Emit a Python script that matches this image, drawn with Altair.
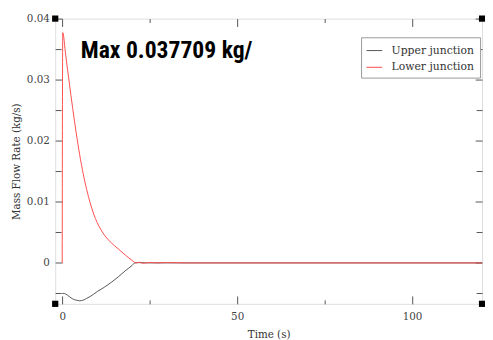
import altair as alt
import pandas as pd

# ---- data ----
LOWER_T = [0, 0.15, 1, 2, 3, 4, 5, 6, 7, 8, 9, 10, 11, 12, 13, 14, 16, 18, 20, 21,
           22, 23, 25, 27, 30, 35, 120]
LOWER_V = [0, 0.0377, 0.0340, 0.0296, 0.0253, 0.0213, 0.0177, 0.0146, 0.0120, 0.0098, 0.0080,
           0.0066, 0.0055, 0.0046, 0.0039, 0.0033, 0.0023, 0.0013, 0.0004, 0.0,
           0.0001, -0.00005, 0.00008, 0.0, 0.00006, 0.0, 0.0]
UPPER_T = [0, 0.5, 1, 2, 3, 4, 5, 6, 7, 8, 10, 12, 14, 16, 18, 20, 20.7, 22, 24, 120]
UPPER_V = [-0.0050, -0.0050, -0.0051, -0.0055, -0.0059, -0.0061, -0.0062, -0.0061, -0.0058,
           -0.0055, -0.0047, -0.0040, -0.0032, -0.0023, -0.0013, -0.0004, 0.0, 0.00005, 0.0, 0.0]
SERIES = ["Upper junction", "Lower junction"]
COLORS = ["#555555", "#ff4d4d"]

X_DOMAIN = [-2, 120]
Y_DOMAIN = [-0.0067, 0.04]
X_TICKS = [0, 25, 50, 75, 100]          # labelled: multiples of 50
Y_TICKS = [-0.005, 0, 0.005, 0.01, 0.015, 0.02, 0.025, 0.03, 0.035, 0.04]  # labelled: multiples of 0.01
TITLE = "Max 0.037709 kg/"

W, H = 434, 290
SERIF = "DejaVu Serif"
FRAME = "#8a8a8a"
TICK = "#555555"

upper = pd.DataFrame({"t": UPPER_T, "v": UPPER_V, "series": SERIES[0]})
lower = pd.DataFrame({"t": LOWER_T, "v": LOWER_V, "series": SERIES[1]})

xscale = alt.Scale(domain=X_DOMAIN, nice=False, zero=False)
yscale = alt.Scale(domain=Y_DOMAIN, nice=False, zero=False)

x_major = "datum.value % 50 == 0"
y_major = "abs(datum.value * 100 - round(datum.value * 100)) < 0.001"

X = alt.X("t:Q", scale=xscale, axis=alt.Axis(
    values=X_TICKS, ticks=False, tickSize=0, domain=False, title="Time (s)",
    labelExpr=f"{x_major} ? format(datum.value, 'd') : ''",
    grid=True, gridColor=TICK, gridWidth=1, gridOpacity=1,
    gridDash={"condition": {"test": x_major, "value": [8, H - 16, 8, 1000]},
              "value": [4, H - 8, 4, 1000]},
    labelFont=SERIF, labelFontSize=10.5, labelColor="#444", labelPadding=8,
    titleFont=SERIF, titleFontSize=10.5, titleFontWeight="normal", titleColor="#333", titlePadding=8))
Y = alt.Y("v:Q", scale=yscale, axis=alt.Axis(
    values=Y_TICKS, ticks=False, tickSize=0, domain=False, title="Mass Flow Rate (kg/s)",
    labelExpr=f"{y_major} ? (datum.value == 0 ? '0' : format(datum.value, '.2f')) : ''",
    grid=True, gridColor=TICK, gridWidth=1, gridOpacity=1,
    gridDash={"condition": {"test": y_major, "value": [7, W - 14, 7, 1000]},
              "value": [6, W - 12, 6, 1000]},
    labelFont=SERIF, labelFontSize=10.5, labelColor="#444", labelPadding=6,
    titleFont=SERIF, titleFontSize=10.5, titleFontWeight="normal", titleColor="#333", titlePadding=5))
C = alt.Color("series:N", scale=alt.Scale(domain=SERIES, range=COLORS), legend=alt.Legend(
    orient="none", legendX=311, legendY=19, title=None, strokeColor="#999", fillColor="white",
    padding=5, symbolType="stroke", symbolSize=256, symbolStrokeWidth=1, labelFont=SERIF,
    labelFontSize=11, labelColor="#333", rowPadding=3, labelOffset=9))

l_upper = alt.Chart(upper).mark_line(strokeWidth=1, interpolate="monotone").encode(x=X, y=Y, color=C)
l_lower = alt.Chart(lower).mark_line(strokeWidth=1, interpolate="monotone").encode(x=X, y=Y, color=C)

corners = pd.DataFrame({"t": [X_DOMAIN[0], X_DOMAIN[0], X_DOMAIN[1], X_DOMAIN[1]],
                        "v": [Y_DOMAIN[0], Y_DOMAIN[1], Y_DOMAIN[0], Y_DOMAIN[1]]})
squares = alt.Chart(corners).mark_square(size=40, color="black", opacity=1, clip=False).encode(x=X, y=Y)

title = alt.Chart(pd.DataFrame({"label": [TITLE]})).mark_text(
    align="left", baseline="middle", font="Liberation Sans Narrow, Roboto Condensed, Liberation Sans",
    fontWeight="bold", fontSize=24, color="black").encode(
    text="label:N", x=alt.value(26), y=alt.value(33))

chart = alt.layer(l_upper, l_lower, title, squares).properties(
    width=W, height=H, autosize=alt.AutoSizeParams(type="none"),
    padding={"left": 48, "top": 8, "right": 3, "bottom": 34},
).configure_view(stroke=FRAME, strokeWidth=1).configure(background="white")

chart.save("out.html", embed_options={"renderer": "svg", "actions": False})
